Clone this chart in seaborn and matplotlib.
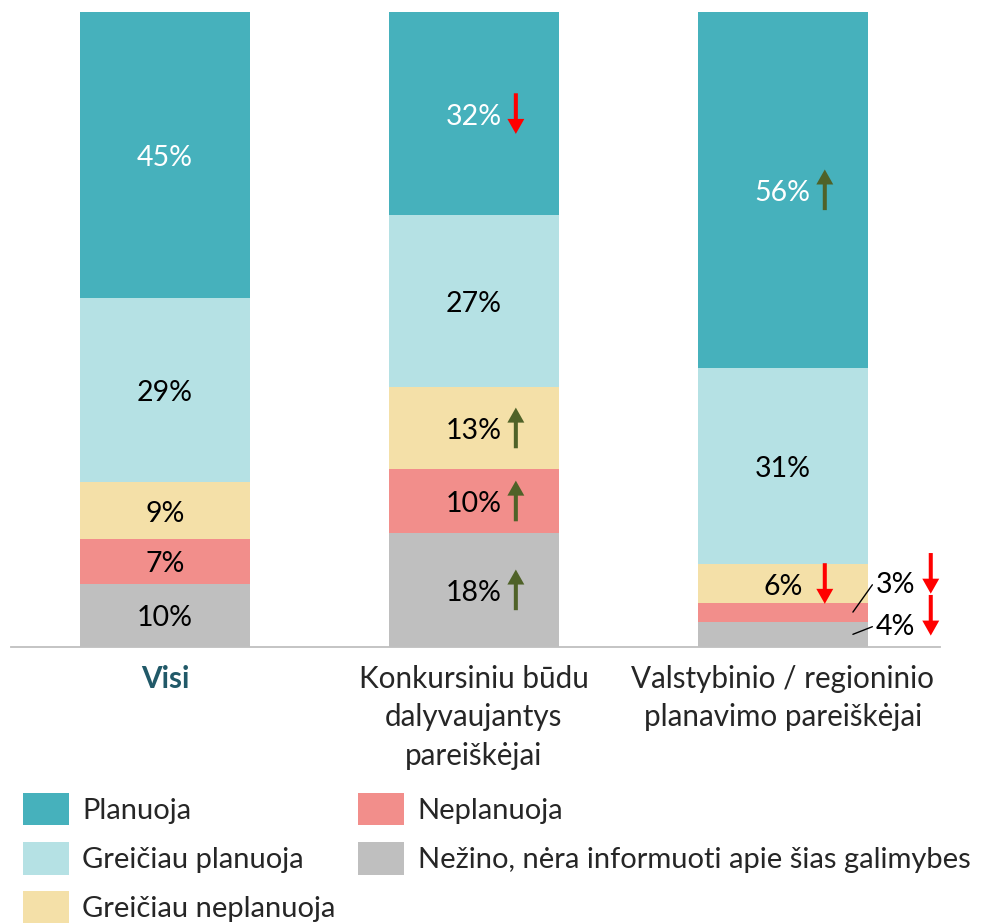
import matplotlib
matplotlib.use("Agg")
import matplotlib.pyplot as plt
import matplotlib.patches as mpatches
import seaborn as sns
import pandas as pd
import numpy as np

# data (percent), stacked from bottom to top
categories = ["Visi",
              "Konkursiniu būdu\ndalyvaujantys\npareiškėjai",
              "Valstybinio / regioninio\nplanavimo pareiškėjai"]
segments = ["Nežino, nėra informuoti apie šias galimybes", "Neplanuoja",
            "Greičiau neplanuoja", "Greičiau planuoja", "Planuoja"]
nezino = [10, 18, 4]
neplanuoja = [7, 10, 3]
greiciau_neplanuoja = [9, 13, 6]
greiciau_planuoja = [29, 27, 31]
planuoja = [45, 32, 56]

# change markers (up / down / none)
nezino_trend = [None, "up", "down"]
neplanuoja_trend = [None, "up", "down"]
greiciau_neplanuoja_trend = [None, "up", "down"]
greiciau_planuoja_trend = [None, None, None]
planuoja_trend = [None, "down", "up"]

colors = ["#BFBFBF", "#F28E8B", "#F4E0A8", "#B5E1E4", "#46B1BC"]
text_colors = ["black", "black", "black", "black", "white"]
arrow_colors = {"up": "#4F6228", "down": "#FF0000"}
# height of labels put outside the bar for small segments
outside_label_y = {"Neplanuoja": 10.1, "Nežino, nėra informuoti apie šias galimybes": 3.5}

sns.set_theme(style="white")
plt.rcParams["font.family"] = ["Lato", "DejaVu Sans"]

values = np.array([nezino, neplanuoja, greiciau_neplanuoja, greiciau_planuoja, planuoja])
trends = [nezino_trend, neplanuoja_trend, greiciau_neplanuoja_trend,
          greiciau_planuoja_trend, planuoja_trend]
cum = np.cumsum(values, axis=0)

fig = plt.figure(figsize=(9.84, 9.23), dpi=100)
ax = fig.add_axes([0.0112, 0.299, 0.9438, 0.688])

# overlapping cumulative bars = stacked bars
for i in reversed(range(len(segments))):
    df = pd.DataFrame({"cat": categories, "val": cum[i]})
    sns.barplot(data=df, x="cat", y="val", color=colors[i], width=0.55,
                saturation=1, linewidth=0, ax=ax)

fs = 20.5
arrow_style = "simple,head_length=1.08,head_width=1.22,tail_width=0.29"


def draw_arrow(x, yc, kind):
    half = 3.2
    if kind == "up":
        start, end = yc - half, yc + half
    else:
        start, end = yc + half, yc - half
    ax.annotate("", xy=(x, end), xytext=(x, start),
                arrowprops=dict(arrowstyle=arrow_style, color=arrow_colors[kind],
                                mutation_scale=10, shrinkA=0, shrinkB=0, lw=0))


for i, seg in enumerate(segments):
    for j in range(len(categories)):
        v = values[i][j]
        yc = cum[i][j] - v / 2
        if v >= 5:
            ax.text(j, yc - 0.5, f"{v}%", ha="center", va="center", fontsize=fs,
                    color=text_colors[i])
            if trends[i][j]:
                draw_arrow(j + 0.136, yc, trends[i][j])
        else:
            ly = outside_label_y[seg]
            ax.plot([j + 0.227, j + 0.29], [yc, ly - 0.3], color="black", lw=1)
            ax.text(j + 0.3, ly - 0.3, f"{v}%", ha="left", va="center", fontsize=fs,
                    color="black")
            if trends[i][j]:
                draw_arrow(j + 0.479, ly + 1.5, trends[i][j])

ax.set_xlim(-0.498, 2.508)
ax.set_ylim(0, 100)
ax.set_yticks([])
ax.set_xlabel("")
ax.set_ylabel("")
for s in ["left", "right", "top"]:
    ax.spines[s].set_visible(False)
ax.spines["bottom"].set_color("#BFBFBF")
ax.spines["bottom"].set_linewidth(1.3)
ax.tick_params(axis="x", length=0, pad=13, labelsize=21.3)
ax.set_xticks(range(len(categories)))
ax.set_xticklabels(categories, linespacing=1.45, va="top")
lbl = ax.get_xticklabels()[0]
lbl.set_fontweight("bold")
lbl.set_color("#215968")

# legend
order = [4, 3, 2, 1, 0]
handles = [mpatches.Patch(color=colors[i], linewidth=0) for i in order]
labels = [segments[i] for i in order]
fig.legend(handles, labels, ncol=2, loc="upper left",
           bbox_to_anchor=(0.0234, 0.1405), frameon=False, fontsize=21,
           handlelength=1.57, handleheight=1.32, handletextpad=0.46,
           labelspacing=0.58, columnspacing=0.78, borderpad=0, borderaxespad=0)

fig.savefig("out.png", dpi=100)
